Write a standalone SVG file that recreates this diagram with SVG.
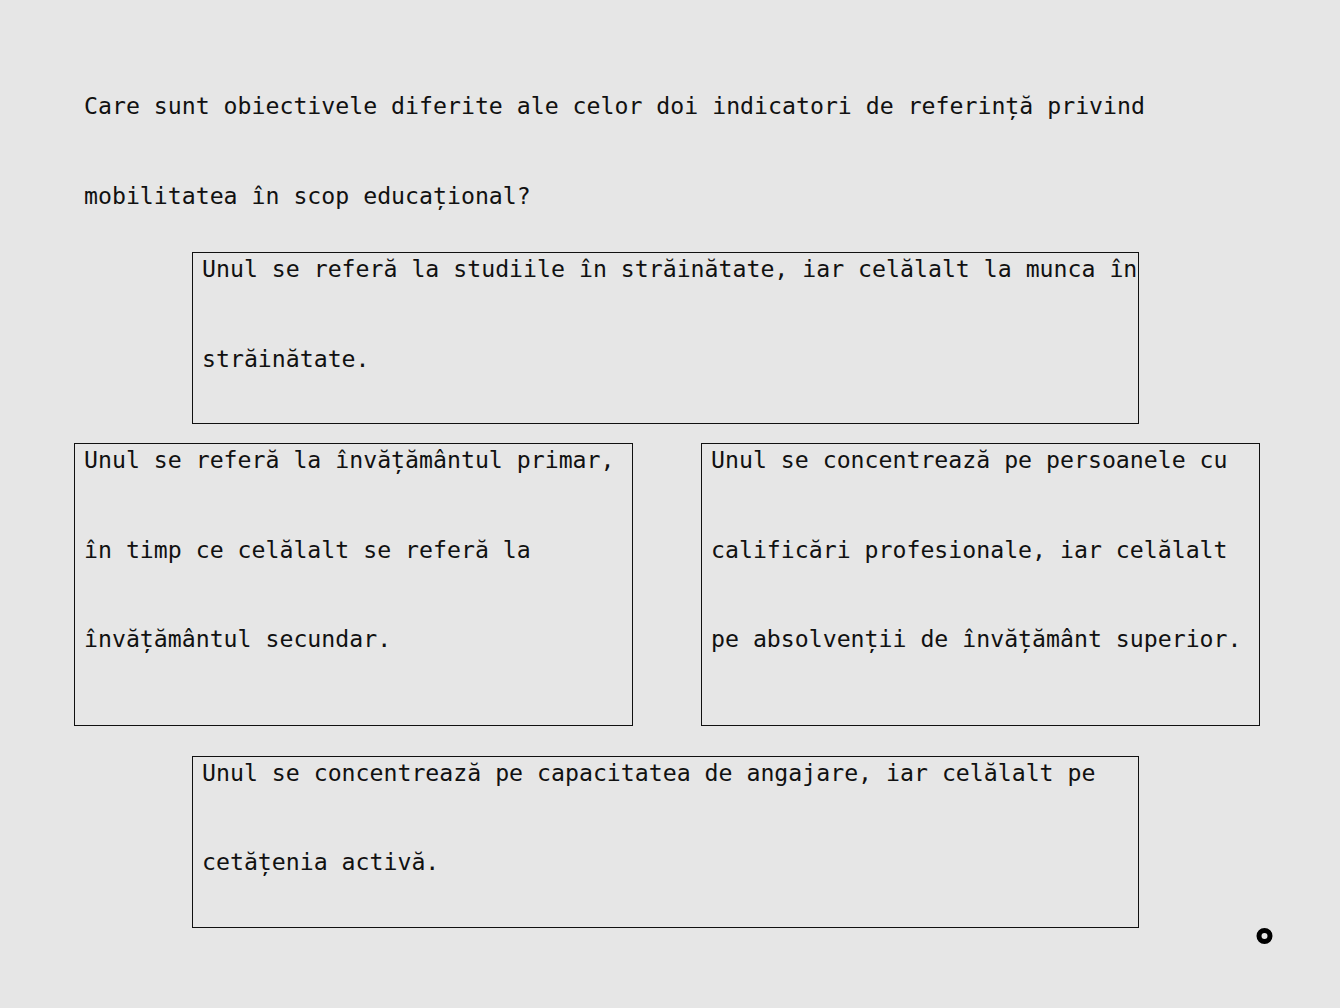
<svg xmlns="http://www.w3.org/2000/svg" width="1340" height="1008" viewBox="0 0 1340 1008">
<style>
.t{font-family:"DejaVu Sans Mono","Liberation Mono",monospace;font-size:23.2px;fill:#111;}
.box{fill:none;stroke:#111;stroke-width:1;}
</style>
<rect x="0" y="0" width="1340" height="1008" fill="#e6e6e6"/>
<g id="question">
<text class="t" x="84" y="114">Care sunt obiectivele diferite ale celor doi indicatori de referință privind</text>
<text class="t" x="84" y="204">mobilitatea în scop educațional?</text>
</g>
<g id="option-a">
<rect class="box" x="192.5" y="252.5" width="946" height="171"/>
<text class="t" x="202" y="276.5">Unul se referă la studiile în străinătate, iar celălalt la munca în</text>
<text class="t" x="202" y="366.5">străinătate.</text>
</g>
<g id="option-b">
<rect class="box" x="74.5" y="443.5" width="558" height="282"/>
<text class="t" x="84" y="468">Unul se referă la învățământul primar,</text>
<text class="t" x="84" y="557.5">în timp ce celălalt se referă la</text>
<text class="t" x="84" y="647">învățământul secundar.</text>
</g>
<g id="option-c">
<rect class="box" x="701.5" y="443.5" width="558" height="282"/>
<text class="t" x="711" y="468">Unul se concentrează pe persoanele cu</text>
<text class="t" x="711" y="557.5">calificări profesionale, iar celălalt</text>
<text class="t" x="711" y="647">pe absolvenții de învățământ superior.</text>
</g>
<g id="option-d">
<rect class="box" x="192.5" y="756.5" width="946" height="171"/>
<text class="t" x="202" y="780.5">Unul se concentrează pe capacitatea de angajare, iar celălalt pe</text>
<text class="t" x="202" y="870">cetățenia activă.</text>
</g>
<g id="connectors"></g>
<g id="marker">
<circle cx="1264.5" cy="936" r="5.5" fill="#e6e6e6" stroke="#000" stroke-width="5"/>
</g>
</svg>
